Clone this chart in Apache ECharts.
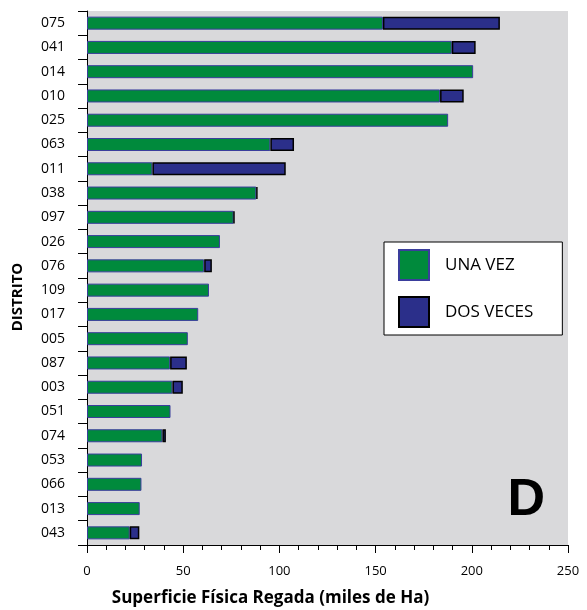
<!DOCTYPE html>
<html>
<head>
<meta charset="utf-8">
<script src="https://cdn.jsdelivr.net/npm/echarts@6/dist/echarts.min.js"></script>
<style>html,body{margin:0;padding:0;background:#fff}#c{width:587px;height:610px}</style>
</head>
<body>
<div id="c"></div>
<script>
const distritos = ['075','041','014','010','025','063','011','038','097','026','076','109','017','005','087','003','051','074','053','066','013','043'];
const unaVez = [153.8,189.6,200.7,183.5,187.7,95.3,34.0,88.0,76.2,69.1,60.9,63.4,57.8,52.4,43.2,44.4,43.4,39.2,28.6,28.3,27.4,22.2];
const dosVeces = [60.8,12.4,null,12.3,null,12.3,69.3,0.6,0.4,null,4.0,null,null,null,8.7,5.4,null,1.8,null,null,null,5.0];
const xTicks = [0,50,100,150,200,250];

const font = '"Open Sans", Lato, sans-serif';
const chart = echarts.init(document.getElementById('c'));
chart.setOption({
  animation: false,
  grid: {left: 87, right: 19, top: 11, bottom: 65, show: true, backgroundColor: '#d9d9db', borderWidth: 0,
         containLabel: false, outerBoundsMode: 'none'},
  legend: {
    orient: 'vertical', left: 384, top: 242,
    icon: 'rect',
    itemWidth: 30, itemHeight: 30, itemGap: 15,
    padding: [7, 29, 7, 14],
    backgroundColor: '#fff', borderColor: '#000', borderWidth: 1,
    textStyle: {fontFamily: font, fontSize: 17, color: '#000', padding: [0, 0, 0, 11]},
    data: ['UNA VEZ', 'DOS VECES']
  },
  xAxis: {
    type: 'value', min: 0, max: 250, interval: 50,
    name: 'Superficie Física Regada (miles de Ha)', nameLocation: 'middle', nameGap: 45,
    nameTextStyle: {fontFamily: font, fontSize: 17, fontWeight: 'bold', color: '#000', padding: [0, 114, 0, 0]},
    axisLine: {show: true, lineStyle: {color: '#000', width: 1}},
    axisTick: {show: true, length: 8, lineStyle: {color: '#000'}},
    minorTick: {show: true, splitNumber: 5, length: 5, lineStyle: {color: '#000'}},
    splitLine: {show: false},
    axisLabel: {margin: 20, fontFamily: font, fontSize: 13, color: '#000',
      formatter: v => xTicks.includes(v) ? String(v) : ''}
  },
  yAxis: {
    type: 'category', data: distritos, inverse: true,
    name: 'DISTRITO', nameLocation: 'middle', nameGap: 62, nameRotate: 90,
    nameTextStyle: {fontFamily: font, fontSize: 15, fontWeight: 'bold', color: '#000', padding: [0, 38, 0, 0]},
    axisLine: {show: true, lineStyle: {color: '#000', width: 1}},
    axisTick: {show: true, length: 9, alignWithLabel: false, lineStyle: {color: '#000'}},
    axisLabel: {margin: 22, fontFamily: font, fontSize: 14, color: '#000'}
  },
  series: [
    {name: 'UNA VEZ', type: 'bar', stack: 't', data: unaVez, barWidth: 13,
     itemStyle: {color: '#008a3c', borderColor: '#3a3e9c', borderWidth: 1}},
    {name: 'DOS VECES', type: 'bar', stack: 't', data: dosVeces, barWidth: 13,
     itemStyle: {color: '#2b2f8a', borderColor: '#000', borderWidth: 1.5}}
  ],
  graphic: [{
    type: 'text', right: 42, top: 475,
    style: {text: 'D', font: 'bold 52px "Liberation Sans", Arial, sans-serif', fill: '#000'}
  }]
});
</script>
</body>
</html>
